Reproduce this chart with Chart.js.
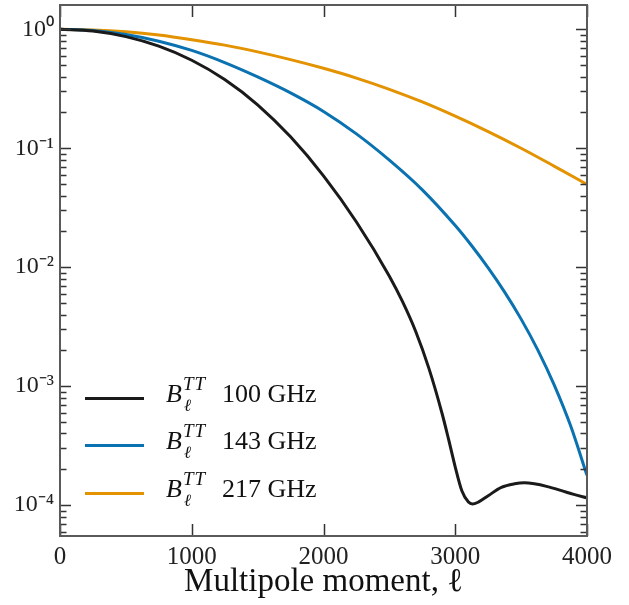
<!DOCTYPE html>
<html>
<head>
<meta charset="utf-8">
<script src="https://cdn.jsdelivr.net/npm/chart.js@4"></script>
<style>
  html, body { margin: 0; padding: 0; background: #fff; }
  #wrap { position: relative; width: 629px; height: 605px; }
  #legend { position: absolute; left: 0; top: 0; font-family: "Liberation Serif", serif; color: #111; }
  .row { position: absolute; left: 0; width: 360px; height: 40px; }
  .sw { position: absolute; left: 85px; width: 59px; height: 3px; }
  .lab { position: absolute; white-space: nowrap; }
  .b { left: 166px; font-size: 26px; font-style: italic; }
  .tt { left: 183px; font-size: 19px; font-style: italic; letter-spacing: 1px; }
  .ell { left: 184px; font-size: 17px; font-style: italic; }
  .ghz { left: 222px; font-size: 26px; }
</style>
</head>
<body>
<div id="wrap">
  <canvas id="myChart" width="629" height="605"></canvas>
  <div id="legend"></div>
</div>
<script>
const ells = [0, 250, 500, 750, 1000, 1250, 1500, 1750, 2000, 2250, 2500, 2750, 3000, 3250, 3500, 3750, 4000];
const ells100 = [0, 250, 500, 750, 1000, 1250, 1500, 1750, 2000, 2250, 2500, 2600, 2700, 2800, 2900, 2950, 3000, 3050, 3100, 3130, 3175, 3250, 3350, 3450, 3525, 3600, 3700, 3800, 3900, 4000];
const beam100 = [1.0, 0.9654, 0.867, 0.7207, 0.5495, 0.3784, 0.232, 0.1247, 0.0586, 0.024, 0.00841, 0.00513, 0.00288, 0.00141, 0.000589, 0.000355, 0.000209, 0.000132, 0.000106, 0.000102, 0.000106, 0.00012, 0.000141, 0.000151, 0.000154, 0.000151, 0.000143, 0.000133, 0.000123, 0.000115];
const ells143 = [0, 250, 500, 750, 1000, 1250, 1500, 1750, 2000, 2250, 2500, 2750, 3000, 3125, 3250, 3375, 3500, 3625, 3750, 3875, 4000];
const beam143 = [1.0, 0.975, 0.904, 0.794, 0.664, 0.525, 0.398, 0.292, 0.204, 0.132, 0.0794, 0.0447, 0.0224, 0.01514, 0.00986, 0.00617, 0.00366, 0.00203, 0.00103, 0.000466, 0.000178];
const beam217 = [1.0, 0.9886, 0.953, 0.895, 0.818, 0.736, 0.646, 0.556, 0.470, 0.389, 0.313, 0.245, 0.186, 0.138, 0.100, 0.0708, 0.0497];
const seriesNames = ['100 GHz', '143 GHz', '217 GHz'];
const seriesColors = ['#1a1a1a', '#0a72b0', '#e39200'];
const yTickValues = [1e-4, 1e-3, 1e-2, 1e-1, 1];
const yTickLabels = ['10⁻⁴', '10⁻³', '10⁻²', '10⁻¹', '10⁰'];
const xTickValues = [0, 1000, 2000, 3000, 4000];

const pts = (xs, ys) => xs.map((x, i) => ({ x: x, y: ys[i] }));

const ctx = document.getElementById('myChart');

// inward ticks on all four sides plus the box
const frameTicks = {
  id: 'frameTicks',
  afterDraw(chart) {
    const { ctx, chartArea: a, scales } = chart;
    const ys = scales.y, xs = scales.x;
    ctx.save();
    ctx.strokeStyle = '#333';
    ctx.lineWidth = 1.5;
    for (let e = -5; e <= 1; e++) {
      for (let m = 1; m <= 9; m++) {
        const v = m * Math.pow(10, e);
        if (v < ys.min || v > ys.max) continue;
        const py = Math.round(ys.getPixelForValue(v)) + 0.5;
        const len = m === 1 ? 11 : 6.5;
        ctx.beginPath();
        ctx.moveTo(a.left, py); ctx.lineTo(a.left + len, py);
        ctx.moveTo(a.right, py); ctx.lineTo(a.right - len, py);
        ctx.stroke();
      }
    }
    xTickValues.forEach(v => {
      const px = Math.round(xs.getPixelForValue(v)) + 0.5;
      ctx.beginPath();
      ctx.moveTo(px, a.bottom); ctx.lineTo(px, a.bottom - 12);
      ctx.moveTo(px, a.top); ctx.lineTo(px, a.top + 12);
      ctx.stroke();
    });
    ctx.strokeStyle = '#5a5a5a';
    ctx.lineWidth = 2;
    ctx.strokeRect(a.left, a.top, a.right - a.left, a.bottom - a.top);
    ctx.restore();
  }
};

const data = {
  datasets: [
    { label: seriesNames[0], data: pts(ells100, beam100) },
    { label: seriesNames[1], data: pts(ells143, beam143) },
    { label: seriesNames[2], data: pts(ells, beam217) }
  ].map((d, i) => Object.assign(d, {
    borderColor: seriesColors[i],
    backgroundColor: seriesColors[i],
    borderWidth: 3,
    pointRadius: 0,
    cubicInterpolationMode: 'monotone'
  }))
};

const options = {
  responsive: false,
  animation: false,
  layout: { padding: { top: 5, right: 42, left: 0, bottom: 0 } },
  plugins: { legend: { display: false }, tooltip: { enabled: false } },
  scales: {
    x: {
      type: 'linear',
      min: 0,
      max: 4000,
      afterBuildTicks: s => { s.ticks = xTickValues.map(v => ({ value: v })); },
      afterFit: s => { s.height = 69; s.paddingLeft = 0; s.paddingRight = 0; },
      grid: { display: false, drawTicks: false },
      border: { display: false },
      ticks: {
        padding: 6,
        color: '#222',
        font: { family: 'Liberation Serif', size: 25 },
        callback: v => String(v)
      },
      title: {
        display: true,
        text: 'Multipole moment, ℓ',
        color: '#111',
        font: { family: 'Liberation Serif', size: 33 },
        padding: { top: 0, bottom: 3 }
      }
    },
    y: {
      type: 'logarithmic',
      min: 5.5e-5,
      max: 1.6,
      afterBuildTicks: s => { s.ticks = yTickValues.map(v => ({ value: v })); },
      afterFit: s => { s.width = 60; s.paddingTop = 0; s.paddingBottom = 0; },
      grid: { display: false, drawTicks: false },
      border: { display: false },
      ticks: {
        padding: 6,
        autoSkip: false,
        color: '#222',
        font: { family: 'Liberation Serif', size: 24 },
        callback: v => yTickLabels[yTickValues.indexOf(v)] || ''
      }
    }
  }
};

new Chart(ctx, { type: 'line', data: data, options: options, plugins: [frameTicks] });

// legend with math labels
const legendRows = [398, 445, 493];
const legend = document.getElementById('legend');
seriesNames.forEach((name, i) => {
  const top = legendRows[i];
  const row = document.createElement('div');
  row.className = 'row';
  row.style.top = (top - 20) + 'px';
  row.innerHTML =
    '<div class="sw" style="top:18.5px;background:' + seriesColors[i] + '"></div>' +
    '<span class="lab b" style="top:1px">B</span>' +
    '<span class="lab tt" style="top:-5px">TT</span>' +
    '<span class="lab ell" style="top:18px">ℓ</span>' +
    '<span class="lab ghz" style="top:1px">' + name + '</span>';
  legend.appendChild(row);
});
</script>
</body>
</html>
